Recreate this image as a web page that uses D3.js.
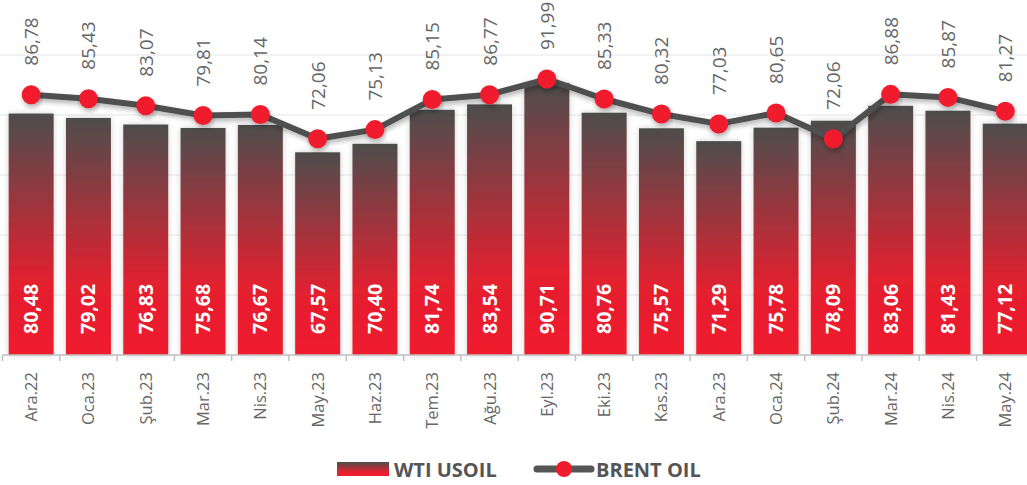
<!DOCTYPE html>
<html>
<head>
<meta charset="utf-8">
<script src="https://cdn.jsdelivr.net/npm/d3@7"></script>
<style>
  body { margin: 0; background: #fff; }
  text { font-family: "Open Sans", sans-serif; }
</style>
</head>
<body>
<div id="chart"></div>
<script>
// Data
const months = ["Ara.22", "Oca.23", "Şub.23", "Mar.23", "Nis.23", "May.23", "Haz.23", "Tem.23", "Ağu.23",
  "Eyl.23", "Eki.23", "Kas.23", "Ara.23", "Oca.24", "Şub.24", "Mar.24", "Nis.24", "May.24"];
const wti = [80.48, 79.02, 76.83, 75.68, 76.67, 67.57, 70.40, 81.74, 83.54,
  90.71, 80.76, 75.57, 71.29, 75.78, 78.09, 83.06, 81.43, 77.12];
const brent = [86.78, 85.43, 83.07, 79.81, 80.14, 72.06, 75.13, 85.15, 86.77,
  91.99, 85.33, 80.32, 77.03, 80.65, 72.06, 86.88, 85.87, 81.27];
const yTicks = [0, 20, 40, 60, 80, 100];

const fmt = (v) => v.toFixed(2).replace(".", ",");

const width = 1027, height = 485;

const svg = d3.select("#chart")
  .append("svg")
  .attr("width", width)
  .attr("height", height);

const defs = svg.append("defs");

// bar gradient (gray on top, red at bottom)
const grad = defs.append("linearGradient")
  .attr("id", "barGrad")
  .attr("x1", 0).attr("y1", 0).attr("x2", 0).attr("y2", 1);
grad.append("stop").attr("offset", "0%").attr("stop-color", "#4d4d4d");
grad.append("stop").attr("offset", "70%").attr("stop-color", "#e3202f");
grad.append("stop").attr("offset", "100%").attr("stop-color", "#f01c2e");

// soft shadow for the bars
const barShadow = defs.append("filter").attr("id", "barShadow")
  .attr("x", "-30%").attr("y", "-10%").attr("width", "160%").attr("height", "120%");
barShadow.append("feDropShadow")
  .attr("dx", 0).attr("dy", 0).attr("stdDeviation", 3)
  .attr("flood-color", "#000").attr("flood-opacity", 0.18);

const lineShadow = defs.append("filter").attr("id", "lineShadow")
  .attr("x", "-10%").attr("y", "-30%").attr("width", "120%").attr("height", "160%");
lineShadow.append("feDropShadow")
  .attr("dx", 1).attr("dy", 3).attr("stdDeviation", 2.5)
  .attr("flood-color", "#000").attr("flood-opacity", 0.3);

// Scales
const x = d3.scaleBand()
  .domain(months)
  .range([2.5, 2.5 + 57.3 * months.length])
  .paddingInner(0.215)
  .paddingOuter(0.1075);

const y = d3.scaleLinear().domain([0, 100]).range([355, 55]);

// Gridlines
svg.append("g")
  .selectAll("line")
  .data(yTicks.slice(1))
  .join("line")
  .attr("x1", 0).attr("x2", width)
  .attr("y1", (d) => y(d)).attr("y2", (d) => y(d))
  .attr("stroke", "#e6e6e6")
  .attr("stroke-width", 1);

// Bars
svg.append("g")
  .selectAll("rect")
  .data(wti)
  .join("rect")
  .attr("x", (d, i) => x(months[i]))
  .attr("y", (d) => y(d))
  .attr("width", x.bandwidth())
  .attr("height", (d) => y(0) - y(d))
  .attr("fill", "url(#barGrad)")
  .attr("filter", "url(#barShadow)");

// X axis
const xAxis = svg.append("g")
  .attr("transform", "translate(0," + y(0) + ")");
xAxis.append("line")
  .attr("x1", x.range()[0]).attr("x2", x.range()[1])
  .attr("stroke", "#bfbfbf").attr("stroke-width", 1.5);
xAxis.selectAll(".tick")
  .data(d3.range(months.length + 1))
  .join("line")
  .attr("x1", (i) => x.range()[0] + i * x.step())
  .attr("x2", (i) => x.range()[0] + i * x.step())
  .attr("y1", 0).attr("y2", 6)
  .attr("stroke", "#bfbfbf").attr("stroke-width", 1.5);

xAxis.selectAll(".lab")
  .data(months)
  .join("text")
  .attr("transform", (d) => "translate(" + (x(d) + x.bandwidth() / 2 + 6) + ",17) rotate(-90)")
  .attr("text-anchor", "end")
  .attr("fill", "#666")
  .style("font-size", "16.5px")
  .text((d) => d);

// Bar value labels
svg.append("g")
  .selectAll("text")
  .data(wti)
  .join("text")
  .attr("transform", (d, i) => "translate(" + (x(months[i]) + x.bandwidth() / 2 + 7) + "," + (y(0) - 21) + ") rotate(-90)")
  .attr("text-anchor", "start")
  .attr("fill", "#fff")
  .style("font-size", "19.5px")
  .style("font-weight", "bold")
  .text((d) => fmt(d));

// Brent line
const cx = (i) => x(months[i]) + x.bandwidth() / 2;
const line = d3.line()
  .x((d, i) => cx(i))
  .y((d) => y(d));

svg.append("path")
  .datum(brent)
  .attr("d", line)
  .attr("fill", "none")
  .attr("stroke", "#505050")
  .attr("stroke-width", 6)
  .attr("stroke-linejoin", "round")
  .attr("filter", "url(#lineShadow)");

svg.append("g")
  .selectAll("circle")
  .data(brent)
  .join("circle")
  .attr("cx", (d, i) => cx(i))
  .attr("cy", (d) => y(d))
  .attr("r", 9.5)
  .attr("fill", "#f01c2e")
  .attr("filter", "url(#lineShadow)");

// Brent labels
svg.append("g")
  .selectAll("text")
  .data(brent)
  .join("text")
  .attr("transform", (d, i) => "translate(" + (cx(i) + 7) + "," + (y(d) - 29) + ") rotate(-90)")
  .attr("text-anchor", "start")
  .attr("fill", "#666")
  .style("font-size", "19px")
  .text((d) => fmt(d));

// Legend
const legend = svg.append("g");
legend.append("rect")
  .attr("x", 337).attr("y", 462)
  .attr("width", 52).attr("height", 14)
  .attr("fill", "url(#barGrad)");
legend.append("text")
  .attr("x", 394).attr("y", 476.5)
  .attr("fill", "#555")
  .style("font-size", "20px")
  .style("font-weight", "bold")
  .text("WTI USOIL");
legend.append("line")
  .attr("x1", 537).attr("x2", 591)
  .attr("y1", 469).attr("y2", 469)
  .attr("stroke", "#555").attr("stroke-width", 7)
  .attr("stroke-linecap", "round");
legend.append("circle")
  .attr("cx", 564).attr("cy", 469).attr("r", 8)
  .attr("fill", "#f01c2e");
legend.append("text")
  .attr("x", 596).attr("y", 476.5)
  .attr("fill", "#555")
  .style("font-size", "20px")
  .style("font-weight", "bold")
  .text("BRENT OIL");
</script>
</body>
</html>
